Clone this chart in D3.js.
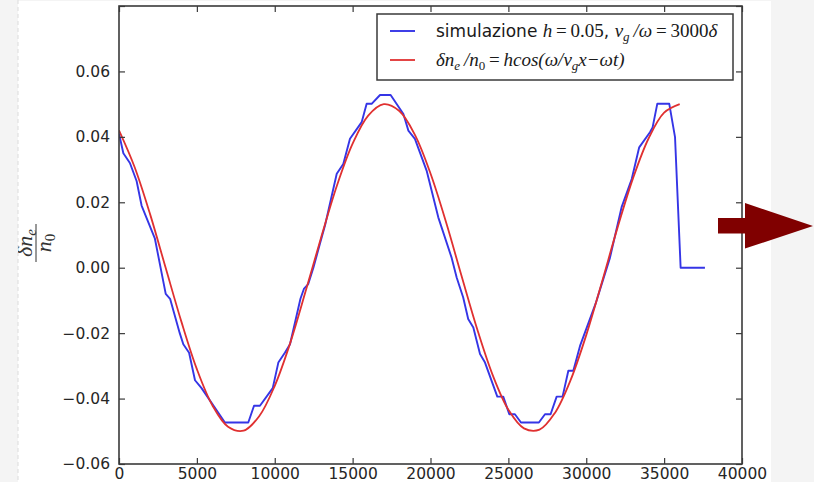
<!DOCTYPE html>
<html><head><meta charset="utf-8">
<script src="https://cdn.jsdelivr.net/npm/d3@7"></script>
<style>body{margin:0;background:#f4f4f4;} svg{display:block}</style>
</head><body><svg id="c" width="814" height="482"></svg>
<script>
// ---- data ----
const xTicks = [0, 5000, 10000, 15000, 20000, 25000, 30000, 35000, 40000];
const xTickLabels = ["0", "5000", "10000", "15000", "20000", "25000", "30000", "35000", "40000"];
const yTicks = [-0.06, -0.04, -0.02, 0.00, 0.02, 0.04, 0.06, 0.08];
const yTickLabels = ["\u22120.06", "\u22120.04", "\u22120.02", "0.00", "0.02", "0.04", "0.06", ""];

// simulation series (blue)
const simX = [0, 280, 700, 1130, 1450, 2300, 3000, 3280, 3900, 4130, 4500, 4880, 5300, 6800, 8300, 8670, 9050, 9870, 10230, 10650, 10980, 11650, 11870, 12150, 12480, 12900, 13230, 13980, 14400, 14830, 15580, 15900, 16220, 16760, 17440, 18260, 18580, 19000, 19750, 20500, 21360, 21680, 22100, 22420, 22750, 23180, 23500, 24290, 24670, 25060, 25420, 25810, 26960, 27350, 27710, 28100, 28480, 28850, 29170, 29600, 30600, 31520, 32270, 32920, 33400, 34090, 34260, 34560, 35330, 35700, 36060, 37620];
const simY = [0.041, 0.035, 0.032, 0.0265, 0.019, 0.009, -0.008, -0.0095, -0.020, -0.0234, -0.026, -0.0344, -0.0368, -0.0473, -0.0473, -0.0422, -0.0422, -0.0368, -0.029, -0.026, -0.0234, -0.0095, -0.0065, -0.005, 0.0, 0.0073, 0.013, 0.0287, 0.0317, 0.0394, 0.0445, 0.0501, 0.0501, 0.0528, 0.0528, 0.047, 0.0419, 0.0394, 0.0297, 0.0154, 0.003, -0.003, -0.0091, -0.0157, -0.0183, -0.0264, -0.029, -0.0394, -0.0394, -0.0448, -0.0448, -0.0473, -0.0473, -0.0448, -0.0448, -0.0394, -0.0394, -0.0315, -0.0315, -0.0239, -0.011, 0.003, 0.0185, 0.0271, 0.0368, 0.0414, 0.0429, 0.0501, 0.0501, 0.0399, 0.0, 0.0];

// analytic curve (red), read at 1000 steps
const fitX = [0, 1000, 2000, 3000, 4000, 5000, 6000, 7000, 8000, 9000, 10000, 11000, 12000, 13000, 14000, 15000, 16000, 17000, 18000, 19000, 20000, 21000, 22000, 23000, 24000, 25000, 26000, 27000, 28000, 29000, 30000, 31000, 32000, 33000, 34000, 35000, 36000];
const fitY = [0.0420, 0.0308, 0.0163, -0.0001, -0.0164, -0.0310, -0.0421, -0.0486, -0.0498, -0.0454, -0.0361, -0.0229, -0.0069, 0.0096, 0.0252, 0.0379, 0.0465, 0.0500, 0.0479, 0.0406, 0.0288, 0.0139, -0.0026, -0.0188, -0.0329, -0.0434, -0.0491, -0.0495, -0.0443, -0.0343, -0.0206, -0.0045, 0.0121, 0.0273, 0.0395, 0.0474, 0.0500];

// ---- drawing ----
const svg = d3.select("#c");
const L = 119, R = 742, T = 6, B = 464;
const x = d3.scaleLinear().domain([0, 40000]).range([L, R]);
const y = d3.scaleLinear().domain([-0.06, 0.08]).range([B, T]);

// slide background
svg.append("rect").attr("x", 0).attr("y", 0).attr("width", 814).attr("height", 482).attr("fill", "#f4f4f4");
svg.append("rect").attr("x", 18).attr("y", 1).attr("width", 753).attr("height", 481).attr("fill", "#ffffff");
svg.append("line").attr("x1", 18).attr("x2", 18).attr("y1", 0).attr("y2", 482)
  .attr("stroke", "#dcdcdc").attr("stroke-width", 1).attr("stroke-dasharray", "4,3");

const defs = svg.append("defs");
defs.append("clipPath").attr("id", "pageclip").append("rect")
  .attr("x", 18).attr("y", 0).attr("width", 760).attr("height", 482);
defs.append("clipPath").attr("id", "plotclip").append("rect")
  .attr("x", L).attr("y", T).attr("width", R - L).attr("height", B - T);

// curves
const lineSim = d3.line().x((d, i) => x(simX[i])).y((d, i) => y(simY[i]));
const lineFit = d3.line().x((d, i) => x(fitX[i])).y((d, i) => y(fitY[i])).curve(d3.curveCatmullRom.alpha(0.5));

const plot = svg.append("g").attr("clip-path", "url(#plotclip)");
plot.append("path").attr("d", lineSim(simX)).attr("fill", "none")
  .attr("stroke", "#3535e6").attr("stroke-width", 1.9).attr("stroke-linejoin", "round");
plot.append("path").attr("d", lineFit(fitX)).attr("fill", "none")
  .attr("stroke", "#e03030").attr("stroke-width", 1.8);

// axes (matplotlib-style, ticks inward on all sides)
const axisColor = "#3a3a3a";
const tickLen = 6;
const font = "'DejaVu Sans', sans-serif";

const axB = d3.axisBottom(x).tickValues(xTicks).tickSizeInner(-tickLen).tickSizeOuter(0).tickPadding(8)
  .tickFormat((d, i) => xTickLabels[i]);
const axT = d3.axisTop(x).tickValues(xTicks).tickSizeInner(-tickLen).tickSizeOuter(0).tickFormat("");
const axLft = d3.axisLeft(y).tickValues(yTicks).tickSizeInner(-tickLen).tickSizeOuter(0).tickPadding(9)
  .tickFormat((d, i) => yTickLabels[i]);
const axRgt = d3.axisRight(y).tickValues(yTicks).tickSizeInner(-tickLen).tickSizeOuter(0).tickFormat("");

function styleAxis(g) {
  g.select(".domain").remove();
  g.selectAll(".tick line").attr("stroke", axisColor).attr("stroke-width", 1.2);
  g.selectAll(".tick text").attr("fill", "#262626").style("font-family", font).style("font-size", "15.5px");
}
svg.append("g").attr("transform", `translate(0,${B})`).call(axB).call(styleAxis)
  .selectAll(".tick text").attr("dy", "0.78em").attr("y", 3);
svg.append("g").attr("transform", `translate(0,${T})`).call(axT).call(styleAxis);
svg.append("g").attr("transform", `translate(${L},0)`).call(axLft).call(styleAxis);
svg.append("g").attr("transform", `translate(${R},0)`).call(axRgt).call(styleAxis);

// frame
svg.append("rect").attr("x", L).attr("y", T).attr("width", R - L).attr("height", B - T)
  .attr("fill", "none").attr("stroke", axisColor).attr("stroke-width", 1.6);

// y label: fraction δn_e / n_0 (rotated)
const serif = "'Liberation Serif', 'DejaVu Serif', serif";
const yl = svg.append("g").attr("clip-path", "url(#pageclip)")
  .append("g").attr("transform", "translate(36,243) rotate(-90)");
yl.append("line").attr("x1", -19).attr("x2", 19).attr("y1", 0).attr("y2", 0)
  .attr("stroke", "#333").attr("stroke-width", 1);
const num = yl.append("text").attr("x", 0).attr("y", -4).attr("text-anchor", "middle")
  .style("font-family", serif).style("font-style", "italic").style("font-size", "22px").attr("fill", "#333");
num.append("tspan").text("\u03b4n");
num.append("tspan").attr("dy", 4).style("font-size", "15px").text("e");
const den = yl.append("text").attr("x", 0).attr("y", 15).attr("text-anchor", "middle")
  .style("font-family", serif).style("font-size", "22px").attr("fill", "#333");
den.append("tspan").style("font-style", "italic").text("n");
den.append("tspan").attr("dy", 4).style("font-size", "15px").text("0");

// legend
const lg = svg.append("g");
lg.append("rect").attr("x", 377).attr("y", 14).attr("width", 356).attr("height", 66)
  .attr("fill", "#fff").attr("stroke", axisColor).attr("stroke-width", 1.5);
lg.append("line").attr("x1", 390).attr("x2", 415).attr("y1", 31).attr("y2", 31)
  .attr("stroke", "#3535e6").attr("stroke-width", 1.9);
lg.append("line").attr("x1", 390).attr("x2", 415).attr("y1", 60).attr("y2", 60)
  .attr("stroke", "#e03030").attr("stroke-width", 1.8);

const t1 = lg.append("text").attr("x", 436).attr("y", 37).attr("fill", "#1a1a1a");
t1.append("tspan").style("font-family", font).style("font-size", "17px").text("simulazione ");
function m(t, txt, opts = {}) {
  const s = t.append("tspan").style("font-family", serif).style("font-size", (opts.size || 19) + "px")
    .style("font-style", opts.up ? "normal" : "italic").text(txt);
  if (opts.dy) s.attr("dy", opts.dy);
  return s;
}
m(t1, "h");
m(t1, "\u2009=\u20090.05", { up: true });
t1.append("tspan").style("font-family", font).style("font-size", "17px").text(", ");
m(t1, "v");
m(t1, "g", { size: 13, dy: 4 });
m(t1, "\u2009/\u03c9", { dy: -4 });
m(t1, "\u2009=\u20093000", { up: true });
m(t1, "\u03b4");

const t2 = lg.append("text").attr("x", 436).attr("y", 66).attr("fill", "#1a1a1a");
m(t2, "\u03b4n");
m(t2, "e", { size: 13, dy: 4 });
m(t2, "\u2009/n", { dy: -4 });
m(t2, "0", { size: 13, dy: 4, up: true });
m(t2, "\u2009=\u2009", { dy: -4, up: true });
m(t2, "hcos(\u03c9/v");
m(t2, "g", { size: 13, dy: 4 });
m(t2, "x\u2212\u03c9t)", { dy: -4 });

// arrow
svg.append("path")
  .attr("d", "M718,218 L745,218 L745,203 L813,226 L745,248.5 L745,233.5 L718,233.5 Z")
  .attr("fill", "#800000");
</script></body></html>
